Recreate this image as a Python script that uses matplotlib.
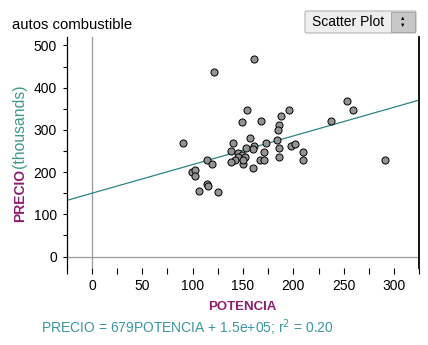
import matplotlib.pyplot as plt
from matplotlib.patches import FancyBboxPatch, Rectangle
import numpy as np

plt.rcParams["font.family"] = ["Liberation Sans", "DejaVu Sans"]

# data (PRECIO in thousands)
potencia = [121, 161, 154, 188, 196, 253, 259, 149, 168, 186, 185, 237, 157, 140,
            173, 184, 186, 198, 202, 210, 210, 186, 161, 160, 153, 138, 171, 167,
            171, 160, 145, 149, 152, 145, 142, 138, 150, 150, 291, 125, 90, 99,
            102, 102, 114, 119, 106, 114, 115]
precio = [436, 468, 346, 333, 346, 368, 346, 319, 322, 312, 300, 322, 280, 268,
          268, 277, 258, 261, 267, 248, 228, 236, 261, 255, 258, 251, 248, 228,
          228, 209, 245, 240, 236, 236, 228, 223, 219, 229, 228, 154, 268, 200,
          206, 190, 229, 220, 155, 172, 166]
slope = 0.679       # 679 per unit, in thousands
intercept = 150.0   # 1.5e+05, in thousands

x_major = [0, 50, 100, 150, 200, 250, 300]
x_minor = [-25, 25, 75, 125, 175, 225, 275, 325]
y_major = [0, 100, 200, 300, 400, 500]
y_minor = [50, 150, 250, 350, 450]

W, H = 428, 345
fig = plt.figure(figsize=(W / 100, H / 100), dpi=100)
ax = fig.add_axes([66.7 / W, 1 - 268 / H, (419.3 - 66.7) / W, (268 - 37) / H])

ax.set_xlim(-25, 325)
ax.set_ylim(-27, 520)

# reference lines at zero
ax.axvline(0, color="#9a9a9a", lw=0.9, zorder=1)
ax.axhline(0, color="#9a9a9a", lw=0.9, zorder=1)

# regression line
xx = np.array([-25, 325])
ax.plot(xx, slope * xx + intercept, color="#2e8585", lw=0.9, zorder=2)

ax.scatter(potencia, precio, s=26, facecolor="#939393", edgecolor="black",
           linewidths=0.7, zorder=3)

for side in ["top", "bottom"]:
    ax.spines[side].set_visible(False)
ax.spines["left"].set_linewidth(0.9)
ax.spines["right"].set_linewidth(1.3)

ax.set_xticks(x_major)
ax.set_xticks(x_minor, minor=True)
ax.set_yticks(y_major)
ax.set_yticks(y_minor, minor=True)
ax.tick_params(axis="x", which="major", direction="out", length=4, width=0.8,
               pad=4, labelsize=10)
ax.tick_params(axis="x", which="minor", direction="out", length=4, width=0.8)
ax.tick_params(axis="y", which="both", direction="out", length=3, width=0.8,
               pad=4, labelsize=10)

# title
fig.text(12.5 / W, 1 - 29 / H, "autos combustible", fontsize=10.7,
         ha="left", va="baseline")

# y label in two colors
fig.text(20 / W, 1 - 222 / H, "PRECIO", rotation=90, fontsize=10,
         fontweight="bold", color="#8e1f6e", ha="center", va="bottom")
fig.text(20 / W, 1 - 168 / H, "(thousands)", rotation=90, fontsize=11.3,
         color="#3f9a8a", ha="center", va="bottom")

# x label
fig.text(242 / W, 1 - 306.5 / H, "POTENCIA", fontsize=9.5, fontweight="bold",
         color="#8e1f6e", ha="center", va="center")

# regression equation
fig.text(41 / W, 1 - 333 / H,
         "PRECIO = 679POTENCIA + 1.5e+05; r$^2$ = 0.20",
         fontsize=10, color="#3a96a0", ha="left", va="baseline")

# "Scatter Plot" selector box
btn = FancyBboxPatch((305 / W, 1 - 33 / H), 111 / W, 22 / H,
                     boxstyle="round,pad=0,rounding_size=0.004",
                     transform=fig.transFigure, facecolor="#eeeeee",
                     edgecolor="#b5b5b5", lw=0.8)
fig.patches.append(btn)
spin = Rectangle((391 / W, 1 - 32 / H), 24 / W, 20 / H,
                 transform=fig.transFigure, facecolor="#c8c8c8",
                 edgecolor="#a0a0a0", lw=0.6)
fig.patches.append(spin)
fig.text(312 / W, 1 - 22 / H, "Scatter Plot", fontsize=10, ha="left",
         va="center")
fig.text(403 / W, 1 - 18.5 / H, "\u25b2", fontsize=4, ha="center", va="center")
fig.text(403 / W, 1 - 25.5 / H, "\u25bc", fontsize=4, ha="center", va="center")

fig.savefig("out.png", dpi=100)
